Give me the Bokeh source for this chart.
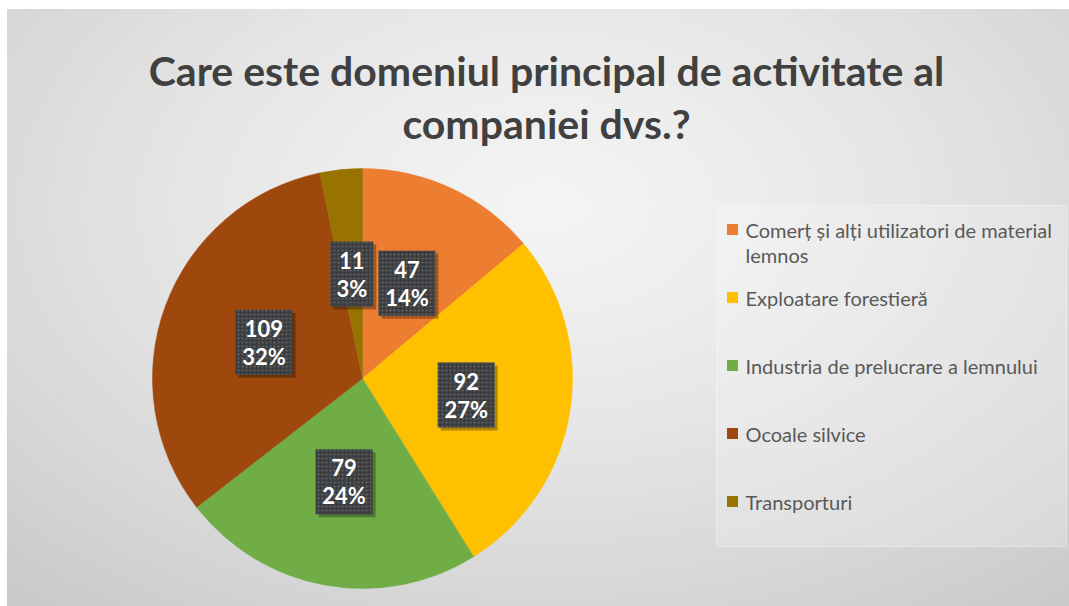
import numpy as np
import textwrap
from bokeh.plotting import figure
from bokeh.models import Range1d
from bokeh.core.properties import value
from bokeh.embed import file_html
from bokeh.resources import INLINE

# ---------------- data ----------------
TITLE_LINES = ["Care este domeniul principal de activitate al", "companiei dvs.?"]
CATEGORIES = [
    "Comerț și alți utilizatori de material lemnos",
    "Exploatare forestieră",
    "Industria de prelucrare a lemnului",
    "Ocoale silvice",
    "Transporturi",
]
COUNTS = [47, 92, 79, 109, 11]
PCT_LABELS = ["14%", "27%", "24%", "32%", "3%"]
COLORS = ["#ED7D31", "#FFC000", "#70AD47", "#9E480E", "#997300"]

# ---------------- layout (1 data unit = 1 px) ----------------
W, H = 1069, 606
LEFT, TOP = 7, 9
FONT = "Lato"

p = figure(width=W, height=H, x_range=Range1d(LEFT, W), y_range=Range1d(0, H - TOP),
           output_backend="svg", toolbar_location=None,
           min_border_left=LEFT, min_border_top=TOP, min_border_right=0, min_border_bottom=0)
p.axis.visible = False
p.grid.visible = False
p.outline_line_color = None
p.border_fill_color = "white"

# radial-gradient background made of concentric ellipses
inner = np.array([0xF4, 0xF4, 0xF4], float)
outer = np.array([0xC4, 0xC4, 0xC4], float)
def shade(s):
    c = inner + (outer - inner) * (s ** 1.3)
    return "#%02x%02x%02x" % tuple(int(round(v)) for v in c)
p.background_fill_color = shade(1.0)
scales = np.linspace(1.0, 0.02, 60)
gcx, gcy = 545, 401
p.ellipse(x=[gcx] * len(scales), y=[gcy] * len(scales),
          width=[1800 * s for s in scales], height=[1150 * s for s in scales],
          fill_color=[shade(s) for s in scales], line_color=None)

# title
p.text(x=[546, 546], y=[536, 483], text=TITLE_LINES, text_align="center",
       text_baseline="alphabetic", text_font=value(FONT), text_font_style="bold",
       text_font_size="41px", text_color="#404040")

# pie
cx, cy, R = 362, 228, 210
total = float(sum(COUNTS))
cum = np.concatenate([[0], np.cumsum(COUNTS)])
starts = np.pi / 2 - 2 * np.pi * cum[:-1] / total
ends = np.pi / 2 - 2 * np.pi * cum[1:] / total
p.wedge(x=cx, y=cy, radius=R, start_angle=list(starts), end_angle=list(ends),
        direction="clock", fill_color=COLORS, line_color=COLORS, line_width=0.5)

# data labels
mids = (starts + ends) / 2
lr = 0.5 * R
lx = cx + lr * np.cos(mids)
ly = cy + lr * np.sin(mids)
vals = [str(c) for c in COUNTS]
nchar = [max(len(a), len(b)) for a, b in zip(vals, PCT_LABELS)]
bw = [15 + 14 * n for n in nchar]
p.rect(x=list(lx + 3), y=list(ly - 3), width=bw, height=65, width_units="screen",
       height_units="screen", fill_color="black", fill_alpha=0.3, line_color=None)
p.rect(x=list(lx), y=list(ly), width=bw, height=65, width_units="screen",
       height_units="screen", fill_color="#3D3D3D", line_color=None,
       hatch_pattern="dot", hatch_color="#6A7785", hatch_scale=4, hatch_weight=1.2,
       hatch_alpha=0.7)
p.text(x=list(lx), y=list(ly + 14), text=vals, text_align="center",
       text_baseline="middle", text_font=value(FONT), text_font_style="bold",
       text_font_size="22px", text_color="white")
p.text(x=list(lx), y=list(ly - 14), text=PCT_LABELS, text_align="center",
       text_baseline="middle", text_font=value(FONT), text_font_style="bold",
       text_font_size="22px", text_color="white")

# legend
p.quad(left=716, right=1066, bottom=60, top=401, fill_color="white",
       fill_alpha=0.22, line_color="white", line_alpha=0.35)
ly0, step = 377, 68
leg_y = [ly0 - i * step for i in range(len(CATEGORIES))]
p.rect(x=[732] * len(CATEGORIES), y=leg_y, width=11, height=11,
       fill_color=COLORS, line_color=None)
tx, ty, tt = [], [], []
for yy, name in zip(leg_y, CATEGORIES):
    for j, line in enumerate(textwrap.wrap(name, 38)):
        tx.append(745)
        ty.append(yy - j * 25)
        tt.append(line)
p.text(x=tx, y=ty, text=tt, text_align="left", text_baseline="middle",
       text_font=value(FONT), text_font_size="20px", text_color="#595959")

open("out.html", "w").write(file_html(p, INLINE))
